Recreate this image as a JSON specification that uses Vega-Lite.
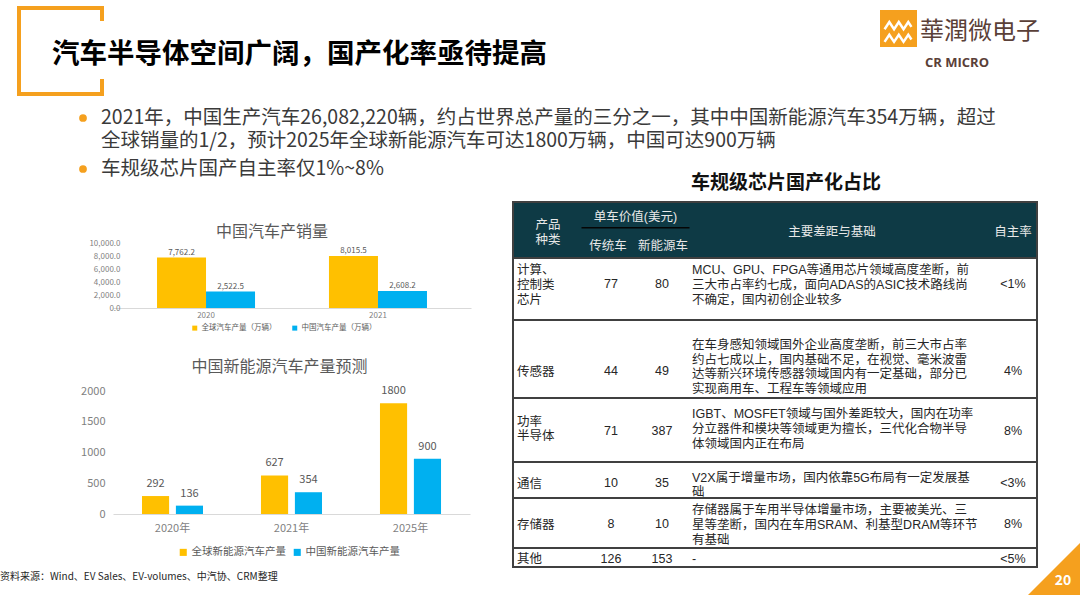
{
  "$schema": "https://vega.github.io/schema/vega-lite/v6.json",
  "background": "white",
  "padding": 0,
  "spacing": 0,
  "config": {
    "view": {"stroke": null},
    "font": "Noto Sans CJK SC",
    "text": {"font": "Noto Sans CJK SC"},
    "title": {"font": "Noto Sans CJK SC"},
    "axis": {"labelFont": "Noto Sans CJK SC"},
    "legend": {"labelFont": "Noto Sans CJK SC"}
  },
  "datasets": {
    "cars": [
      {"year": "2020", "series": "全球汽车产量（万辆）", "value": 7762.2},
      {"year": "2020", "series": "中国汽车产量（万辆）", "value": 2522.5},
      {"year": "2021", "series": "全球汽车产量（万辆）", "value": 8015.5},
      {"year": "2021", "series": "中国汽车产量（万辆）", "value": 2608.2}
    ],
    "nev": [
      {"year": "2020年", "series": "全球新能源汽车产量", "value": 292},
      {"year": "2020年", "series": "中国新能源汽车产量", "value": 136},
      {"year": "2021年", "series": "全球新能源汽车产量", "value": 627},
      {"year": "2021年", "series": "中国新能源汽车产量", "value": 354},
      {"year": "2025年", "series": "全球新能源汽车产量", "value": 1800},
      {"year": "2025年", "series": "中国新能源汽车产量", "value": 900}
    ],
    "table": [
      {"row": "h", "col": 1, "text": "产品\n种类"},
      {"row": "h", "col": 2.5, "text": "单车价值(美元)"},
      {"row": "h", "col": 2, "text": "传统车"},
      {"row": "h", "col": 3, "text": "新能源车"},
      {"row": "h", "col": 4, "text": "主要差距与基础"},
      {"row": "h", "col": 5, "text": "自主率"},
      {"row": "r1", "col": 1, "text": "计算、\n控制类\n芯片"},
      {"row": "r1", "col": 2, "text": "77"},
      {"row": "r1", "col": 3, "text": "80"},
      {"row": "r1", "col": 4, "text": "MCU、GPU、FPGA等通用芯片领域高度垄断，前\n三大市占率约七成，面向ADAS的ASIC技术路线尚\n不确定，国内初创企业较多"},
      {"row": "r1", "col": 5, "text": "<1%"},
      {"row": "r2", "col": 1, "text": "传感器"},
      {"row": "r2", "col": 2, "text": "44"},
      {"row": "r2", "col": 3, "text": "49"},
      {"row": "r2", "col": 4, "text": "在车身感知领域国外企业高度垄断，前三大市占率\n约占七成以上，国内基础不足，在视觉、毫米波雷\n达等新兴环境传感器领域国内有一定基础，部分已\n实现商用车、工程车等领域应用"},
      {"row": "r2", "col": 5, "text": "4%"},
      {"row": "r3", "col": 1, "text": "功率\n半导体"},
      {"row": "r3", "col": 2, "text": "71"},
      {"row": "r3", "col": 3, "text": "387"},
      {"row": "r3", "col": 4, "text": "IGBT、MOSFET领域与国外差距较大，国内在功率\n分立器件和模块等领域更为擅长，三代化合物半导\n体领域国内正在布局"},
      {"row": "r3", "col": 5, "text": "8%"},
      {"row": "r4", "col": 1, "text": "通信"},
      {"row": "r4", "col": 2, "text": "10"},
      {"row": "r4", "col": 3, "text": "35"},
      {"row": "r4", "col": 4, "text": "V2X属于增量市场，国内依靠5G布局有一定发展基\n础"},
      {"row": "r4", "col": 5, "text": "<3%"},
      {"row": "r5", "col": 1, "text": "存储器"},
      {"row": "r5", "col": 2, "text": "8"},
      {"row": "r5", "col": 3, "text": "10"},
      {"row": "r5", "col": 4, "text": "存储器属于车用半导体增量市场，主要被美光、三\n星等垄断，国内在车用SRAM、利基型DRAM等环节\n有基础"},
      {"row": "r5", "col": 5, "text": "8%"},
      {"row": "r6", "col": 1, "text": "其他"},
      {"row": "r6", "col": 2, "text": "126"},
      {"row": "r6", "col": 3, "text": "153"},
      {"row": "r6", "col": 4, "text": "-"},
      {"row": "r6", "col": 5, "text": "<5%"}
    ]
  },
  "vconcat": [
    {
      "width": 967,
      "height": 201,
      "data": {"values": [{}]},
      "layer": [
        {"mark": {"type": "rule", "color": "#F5A01E", "strokeWidth": 4, "strokeCap": "square"}, "encoding": {"x": {"value": -94}, "x2": {"value": -11}, "y": {"value": 8}, "y2": {"value": 8}}},
        {"mark": {"type": "rule", "color": "#F5A01E", "strokeWidth": 4, "strokeCap": "square"}, "encoding": {"x": {"value": -94}, "x2": {"value": -94}, "y": {"value": 8}, "y2": {"value": 94}}},
        {"mark": {"type": "rule", "color": "#F5A01E", "strokeWidth": 4, "strokeCap": "square"}, "encoding": {"x": {"value": -94}, "x2": {"value": -11}, "y": {"value": 94}, "y2": {"value": 94}}},
        {"mark": {"type": "rule", "color": "#F5A01E", "strokeWidth": 4, "strokeCap": "square"}, "encoding": {"x": {"value": -11}, "x2": {"value": -11}, "y": {"value": 8}, "y2": {"value": 19}}},
        {"mark": {"type": "rule", "color": "#F5A01E", "strokeWidth": 4, "strokeCap": "square"}, "encoding": {"x": {"value": -11}, "x2": {"value": -11}, "y": {"value": 81}, "y2": {"value": 94}}},
        {"mark": {"type": "text", "text": "汽车半导体空间广阔，国产化率亟待提高", "x": -61, "y": 55, "align": "left", "baseline": "middle", "fontSize": 27.5, "fontWeight": "bold", "color": "#000000"}},
        {"mark": {"type": "rect", "color": "#F5A01E", "x": 767, "x2": 804, "y": 10, "y2": 47}, "encoding": {}},
        {"mark": {"type": "point", "shape": "M -0.85 -0.05 L -0.55 -0.5 L -0.25 -0.05 L 0.05 -0.5 L 0.35 -0.05 L 0.65 -0.5 L 0.85 -0.2 M -0.85 0.75 L -0.55 0.3 L -0.25 0.75 L 0.05 0.3 L 0.35 0.75 L 0.65 0.3 L 0.85 0.6", "size": 1000, "filled": false, "opacity": 1, "stroke": "#FFFFFF", "strokeWidth": 2.5, "x": 785, "y": 30}},
        {"mark": {"type": "text", "text": "華潤微电子", "x": 807, "y": 32, "align": "left", "baseline": "middle", "fontSize": 24, "font": "Noto Sans CJK TC", "color": "#5A4038"}},
        {"mark": {"type": "text", "text": "CR MICRO", "x": 812, "y": 63, "align": "left", "baseline": "middle", "fontSize": 13, "fontWeight": "bold", "font": "Open Sans", "color": "#5A4038"}},
        {"mark": {"type": "point", "filled": true, "size": 60, "color": "#F5A01E", "opacity": 1, "x": -30, "y": 118}},
        {"mark": {"type": "point", "filled": true, "size": 60, "color": "#F5A01E", "opacity": 1, "x": -30, "y": 169}},
        {"mark": {"type": "text", "text": "2021年，中国生产汽车26,082,220辆，约占世界总产量的三分之一，其中中国新能源汽车354万辆，超过\n全球销量的1/2，预计2025年全球新能源汽车可达1800万辆，中国可达900万辆", "lineBreak": "\n", "lineHeight": 23, "x": -12, "y": 118, "align": "left", "baseline": "middle", "fontSize": 19.5, "color": "#3A3A3A"}},
        {"mark": {"type": "text", "text": "车规级芯片国产自主率仅1%~8%", "x": -12, "y": 169, "align": "left", "baseline": "middle", "fontSize": 19.5, "color": "#3A3A3A"}},
        {"mark": {"type": "text", "text": "车规级芯片国产化占比", "x": 673, "y": 183, "align": "center", "baseline": "middle", "fontSize": 19, "fontWeight": "bold", "color": "#111111"}}
      ]
    },
    {
      "spacing": 0,
      "hconcat": [
        {
          "spacing": 0,
          "bounds": "flush",
          "resolve": {"scale": {"color": "independent", "xOffset": "independent"}, "legend": {"color": "independent"}},
          "vconcat": [
            {"width": 358, "height": 41, "data": {"values": [{}]}, "mark": {"type": "text", "text": " "}},
            {
              "width": 358,
              "height": 65,
              "data": {"name": "cars"},
              "title": {"text": "中国汽车产销量", "fontSize": 16, "fontWeight": "normal", "color": "#595959", "dx": -20, "offset": -1, "frame": "group"},
              "encoding": {
                "x": {"field": "year", "type": "nominal", "scale": {"paddingInner": 0.43, "paddingOuter": 0.256}, "axis": {"title": null, "labelAngle": 0, "labelFontSize": 8, "labelColor": "#7F7F7F", "domainColor": "#D9D9D9", "ticks": false, "labelPadding": 3}},
                "xOffset": {"field": "series", "type": "nominal", "sort": ["全球汽车产量（万辆）", "中国汽车产量（万辆）"], "scale": {"paddingInner": 0, "paddingOuter": 0}},
                "y": {"field": "value", "type": "quantitative", "scale": {"domain": [0, 10000]}, "axis": {"title": null, "values": [0, 2000, 4000, 6000, 8000, 10000], "format": ",.1f", "labelFontSize": 8, "labelColor": "#7F7F7F", "grid": false, "domain": false, "ticks": false, "labelPadding": 2, "offset": -9}}
              },
              "layer": [
                {"mark": {"type": "bar"}, "encoding": {"color": {"field": "series", "type": "nominal", "scale": {"domain": ["全球汽车产量（万辆）", "中国汽车产量（万辆）"], "range": ["#FFC000", "#00B0F0"]}, "legend": {"title": null, "orient": "none", "legendX": 78, "legendY": 81, "direction": "horizontal", "symbolType": "square", "symbolSize": 25, "labelFontSize": 7.5, "labelColor": "#595959", "columnPadding": 14, "labelOffset": 3}}}},
                {"mark": {"type": "text", "baseline": "bottom", "dy": -1, "fontSize": 8, "color": "#595959"}, "encoding": {"text": {"field": "value", "type": "quantitative", "format": ",.1f"}}}
              ]
            },
            {"width": 358, "height": 83, "data": {"values": [{}]}, "mark": {"type": "text", "text": " "}},
            {
              "width": 357,
              "height": 123,
              "data": {"name": "nev"},
              "title": {"text": "中国新能源汽车产量预测", "fontSize": 16, "fontWeight": "normal", "color": "#595959", "dx": -12, "offset": 10, "frame": "group"},
              "encoding": {
                "x": {"field": "year", "type": "nominal", "scale": {"paddingInner": 0.487, "paddingOuter": 0.2435}, "axis": {"title": null, "labelAngle": 0, "labelFontSize": 11, "labelColor": "#7F7F7F", "domainColor": "#D9D9D9", "ticks": false, "labelPadding": 8}},
                "xOffset": {"field": "series", "type": "nominal", "sort": ["全球新能源汽车产量", "中国新能源汽车产量"], "scale": {"paddingInner": 0.2, "paddingOuter": 0}},
                "y": {"field": "value", "type": "quantitative", "scale": {"domain": [0, 2000]}, "axis": {"title": null, "values": [0, 500, 1000, 1500, 2000], "format": "d", "labelFontSize": 11, "labelColor": "#7F7F7F", "grid": false, "domain": false, "ticks": false, "labelPadding": 8}}
              },
              "layer": [
                {"mark": {"type": "bar"}, "encoding": {"color": {"field": "series", "type": "nominal", "scale": {"domain": ["全球新能源汽车产量", "中国新能源汽车产量"], "range": ["#FFC000", "#00B0F0"]}, "legend": {"title": null, "orient": "none", "legendX": 65, "legendY": 156, "direction": "horizontal", "symbolType": "square", "symbolSize": 50, "labelFontSize": 10.5, "labelColor": "#595959", "columnPadding": 6, "labelOffset": 3}}}},
                {"mark": {"type": "text", "baseline": "bottom", "dy": -7, "fontSize": 11, "color": "#595959"}, "encoding": {"text": {"field": "value", "type": "quantitative"}}}
              ]
            },
            {
              "width": 358,
              "height": 81,
              "data": {"values": [{}]},
              "mark": {"type": "text", "text": "资料来源：Wind、EV Sales、EV-volumes、中汽协、CRM整理", "x": -113, "y": 63, "align": "left", "baseline": "middle", "fontSize": 10, "color": "#262626"}
            }
          ]
        },
        {"width": 41, "height": 10, "data": {"values": [{}]}, "mark": {"type": "text", "text": " "}},
        {
          "spacing": 0,
          "bounds": "flush",
          "vconcat": [
            {
              "width": 524, "height": 56,
              "view": {"fill": "#0E3A45", "stroke": "#404040", "strokeWidth": 2},
              "data": {"name": "table"},
              "transform": [{"filter": "datum.row == 'h'"}],
              "encoding": {
                "x": {"field": "col", "type": "quantitative", "scale": {"domain": [1, 2, 3, 4, 5], "range": [35, 95, 150, 319, 500], "zero": false, "nice": false}, "axis": null},
                "text": {"field": "text", "type": "nominal"}
              },
              "layer": [
                {"transform": [{"filter": "datum.col == 1"}], "mark": {"type": "text", "align": "center", "baseline": "middle", "lineBreak": "\n", "lineHeight": 15, "fontSize": 12.5, "color": "#E8E8E8", "font": "Liberation Sans, Noto Sans CJK SC"}, "encoding": {"y": {"datum": 41, "type": "quantitative", "scale": {"domain": [0, 100], "reverse": true}, "axis": null}}},
                {"transform": [{"filter": "datum.col == 4 || datum.col == 5"}], "mark": {"type": "text", "align": "center", "baseline": "middle", "fontSize": 12.5, "color": "#E8E8E8", "font": "Liberation Sans, Noto Sans CJK SC"}, "encoding": {"y": {"datum": 54, "type": "quantitative"}}},
                {"transform": [{"filter": "datum.col == 2.5"}], "mark": {"type": "text", "align": "center", "baseline": "middle", "fontSize": 12.5, "color": "#E8E8E8", "font": "Liberation Sans, Noto Sans CJK SC"}, "encoding": {"y": {"datum": 27, "type": "quantitative"}}},
                {"transform": [{"filter": "datum.col == 2 || datum.col == 3"}], "mark": {"type": "text", "align": "center", "baseline": "middle", "fontSize": 12.5, "color": "#E8E8E8", "font": "Liberation Sans, Noto Sans CJK SC"}, "encoding": {"y": {"datum": 79, "type": "quantitative"}}},
                {"transform": [{"filter": "datum.col == 2.5"}], "mark": {"type": "tick", "orient": "horizontal", "size": 108, "thickness": 1.5, "color": "#050505", "opacity": 1}, "encoding": {"y": {"datum": 46, "type": "quantitative"}, "text": null}}
              ]
            },
            {
              "width": 524, "height": 62,
              "view": {"fill": "#FFFFFF", "stroke": "#404040", "strokeWidth": 2},
              "data": {"name": "table"},
              "transform": [{"filter": "datum.row == 'r1'"}],
              "encoding": {
                "x": {"field": "col", "type": "quantitative", "scale": {"domain": [1, 2, 3, 4, 5], "range": [4, 98, 149, 179, 500], "zero": false, "nice": false}, "axis": null},
                "text": {"field": "text", "type": "nominal"}
              },
              "layer": [
                {"transform": [{"filter": "datum.col == 1"}], "mark": {"type": "text", "align": "left", "baseline": "middle", "lineBreak": "\n", "lineHeight": 15, "fontSize": 12.5, "color": "#262626", "font": "Liberation Sans, Noto Sans CJK SC"}, "encoding": {"y": {"datum": 19, "type": "quantitative", "scale": {"domain": [0, 100], "reverse": true}, "axis": null}}},
                {"transform": [{"filter": "datum.col == 4"}], "mark": {"type": "text", "align": "left", "baseline": "middle", "lineBreak": "\n", "lineHeight": 15, "fontSize": 12.5, "color": "#262626", "font": "Liberation Sans, Noto Sans CJK SC"}, "encoding": {"y": {"datum": 19, "type": "quantitative"}}},
                {"transform": [{"filter": "datum.col == 2 || datum.col == 3 || datum.col == 5"}], "mark": {"type": "text", "align": "center", "baseline": "middle", "fontSize": 12.5, "color": "#262626", "font": "Liberation Sans, Noto Sans CJK SC"}, "encoding": {"y": {"datum": 42, "type": "quantitative"}}}
              ]
            },
            {
              "width": 524, "height": 78,
              "view": {"fill": "#FFFFFF", "stroke": "#404040", "strokeWidth": 2},
              "data": {"name": "table"},
              "transform": [{"filter": "datum.row == 'r2'"}],
              "encoding": {
                "x": {"field": "col", "type": "quantitative", "scale": {"domain": [1, 2, 3, 4, 5], "range": [4, 98, 149, 179, 500], "zero": false, "nice": false}, "axis": null},
                "text": {"field": "text", "type": "nominal"}
              },
              "layer": [
                {"transform": [{"filter": "datum.col == 1"}], "mark": {"type": "text", "align": "left", "baseline": "middle", "lineBreak": "\n", "lineHeight": 15, "fontSize": 12.5, "color": "#262626", "font": "Liberation Sans, Noto Sans CJK SC"}, "encoding": {"y": {"datum": 67, "type": "quantitative", "scale": {"domain": [0, 100], "reverse": true}, "axis": null}}},
                {"transform": [{"filter": "datum.col == 4"}], "mark": {"type": "text", "align": "left", "baseline": "middle", "lineBreak": "\n", "lineHeight": 14.7, "fontSize": 12.5, "color": "#262626", "font": "Liberation Sans, Noto Sans CJK SC"}, "encoding": {"y": {"datum": 32, "type": "quantitative"}}},
                {"transform": [{"filter": "datum.col == 2 || datum.col == 3 || datum.col == 5"}], "mark": {"type": "text", "align": "center", "baseline": "middle", "fontSize": 12.5, "color": "#262626", "font": "Liberation Sans, Noto Sans CJK SC"}, "encoding": {"y": {"datum": 65, "type": "quantitative"}}}
              ]
            },
            {
              "width": 524, "height": 64,
              "view": {"fill": "#FFFFFF", "stroke": "#404040", "strokeWidth": 2},
              "data": {"name": "table"},
              "transform": [{"filter": "datum.row == 'r3'"}],
              "encoding": {
                "x": {"field": "col", "type": "quantitative", "scale": {"domain": [1, 2, 3, 4, 5], "range": [4, 98, 149, 179, 500], "zero": false, "nice": false}, "axis": null},
                "text": {"field": "text", "type": "nominal"}
              },
              "layer": [
                {"transform": [{"filter": "datum.col == 1"}], "mark": {"type": "text", "align": "left", "baseline": "middle", "lineBreak": "\n", "lineHeight": 14, "fontSize": 12.5, "color": "#262626", "font": "Liberation Sans, Noto Sans CJK SC"}, "encoding": {"y": {"datum": 38, "type": "quantitative", "scale": {"domain": [0, 100], "reverse": true}, "axis": null}}},
                {"transform": [{"filter": "datum.col == 4"}], "mark": {"type": "text", "align": "left", "baseline": "middle", "lineBreak": "\n", "lineHeight": 15, "fontSize": 12.5, "color": "#262626", "font": "Liberation Sans, Noto Sans CJK SC"}, "encoding": {"y": {"datum": 25, "type": "quantitative"}}},
                {"transform": [{"filter": "datum.col == 2 || datum.col == 3 || datum.col == 5"}], "mark": {"type": "text", "align": "center", "baseline": "middle", "fontSize": 12.5, "color": "#262626", "font": "Liberation Sans, Noto Sans CJK SC"}, "encoding": {"y": {"datum": 52, "type": "quantitative"}}}
              ]
            },
            {
              "width": 524, "height": 36,
              "view": {"fill": "#FFFFFF", "stroke": "#404040", "strokeWidth": 2},
              "data": {"name": "table"},
              "transform": [{"filter": "datum.row == 'r4'"}],
              "encoding": {
                "x": {"field": "col", "type": "quantitative", "scale": {"domain": [1, 2, 3, 4, 5], "range": [4, 98, 149, 179, 500], "zero": false, "nice": false}, "axis": null},
                "text": {"field": "text", "type": "nominal"}
              },
              "layer": [
                {"transform": [{"filter": "datum.col == 1"}], "mark": {"type": "text", "align": "left", "baseline": "middle", "fontSize": 12.5, "color": "#262626", "font": "Liberation Sans, Noto Sans CJK SC"}, "encoding": {"y": {"datum": 61, "type": "quantitative", "scale": {"domain": [0, 100], "reverse": true}, "axis": null}}},
                {"transform": [{"filter": "datum.col == 4"}], "mark": {"type": "text", "align": "left", "baseline": "middle", "lineBreak": "\n", "lineHeight": 14, "fontSize": 12.5, "color": "#262626", "font": "Liberation Sans, Noto Sans CJK SC"}, "encoding": {"y": {"datum": 44, "type": "quantitative"}}},
                {"transform": [{"filter": "datum.col == 2 || datum.col == 3 || datum.col == 5"}], "mark": {"type": "text", "align": "center", "baseline": "middle", "fontSize": 12.5, "color": "#262626", "font": "Liberation Sans, Noto Sans CJK SC"}, "encoding": {"y": {"datum": 58, "type": "quantitative"}}}
              ]
            },
            {
              "width": 524, "height": 50,
              "view": {"fill": "#FFFFFF", "stroke": "#404040", "strokeWidth": 2},
              "data": {"name": "table"},
              "transform": [{"filter": "datum.row == 'r5'"}],
              "encoding": {
                "x": {"field": "col", "type": "quantitative", "scale": {"domain": [1, 2, 3, 4, 5], "range": [4, 98, 149, 179, 500], "zero": false, "nice": false}, "axis": null},
                "text": {"field": "text", "type": "nominal"}
              },
              "layer": [
                {"transform": [{"filter": "datum.col == 1"}], "mark": {"type": "text", "align": "left", "baseline": "middle", "fontSize": 12.5, "color": "#262626", "font": "Liberation Sans, Noto Sans CJK SC"}, "encoding": {"y": {"datum": 54, "type": "quantitative", "scale": {"domain": [0, 100], "reverse": true}, "axis": null}}},
                {"transform": [{"filter": "datum.col == 4"}], "mark": {"type": "text", "align": "left", "baseline": "middle", "lineBreak": "\n", "lineHeight": 15, "fontSize": 12.5, "color": "#262626", "font": "Liberation Sans, Noto Sans CJK SC"}, "encoding": {"y": {"datum": 24, "type": "quantitative"}}},
                {"transform": [{"filter": "datum.col == 2 || datum.col == 3 || datum.col == 5"}], "mark": {"type": "text", "align": "center", "baseline": "middle", "fontSize": 12.5, "color": "#262626", "font": "Liberation Sans, Noto Sans CJK SC"}, "encoding": {"y": {"datum": 52, "type": "quantitative"}}}
              ]
            },
            {
              "width": 524, "height": 19,
              "view": {"fill": "#FFFFFF", "stroke": "#404040", "strokeWidth": 2},
              "data": {"name": "table"},
              "transform": [{"filter": "datum.row == 'r6'"}],
              "encoding": {
                "x": {"field": "col", "type": "quantitative", "scale": {"domain": [1, 2, 3, 4, 5], "range": [4, 98, 149, 179, 500], "zero": false, "nice": false}, "axis": null},
                "text": {"field": "text", "type": "nominal"}
              },
              "layer": [
                {"transform": [{"filter": "datum.col == 1"}], "mark": {"type": "text", "align": "left", "baseline": "middle", "fontSize": 12.5, "color": "#262626", "font": "Liberation Sans, Noto Sans CJK SC"}, "encoding": {"y": {"datum": 60, "type": "quantitative", "scale": {"domain": [0, 100], "reverse": true}, "axis": null}}},
                {"transform": [{"filter": "datum.col == 4"}], "mark": {"type": "text", "align": "left", "baseline": "middle", "fontSize": 12.5, "color": "#262626", "font": "Liberation Sans, Noto Sans CJK SC"}, "encoding": {"y": {"datum": 56, "type": "quantitative"}}},
                {"transform": [{"filter": "datum.col == 2 || datum.col == 3 || datum.col == 5"}], "mark": {"type": "text", "align": "center", "baseline": "middle", "fontSize": 12.5, "color": "#262626", "font": "Liberation Sans, Noto Sans CJK SC"}, "encoding": {"y": {"datum": 56, "type": "quantitative"}}}
              ]
            },
            {
              "width": 524,
              "height": 28,
              "data": {"values": [{}]},
              "layer": [
                {"mark": {"type": "point", "shape": "M 1 1 L -1 1 L 1 -1 Z", "size": 2704, "filled": true, "opacity": 1, "color": "#F5A01E", "strokeWidth": 0, "x": 541, "y": 2}},
                {"mark": {"type": "text", "text": "20", "x": 550, "y": 14, "align": "center", "baseline": "middle", "fontSize": 14, "fontWeight": "bold", "color": "#FFFFFF"}}
              ]
            }
          ]
        }
      ]
    }
  ]
}
